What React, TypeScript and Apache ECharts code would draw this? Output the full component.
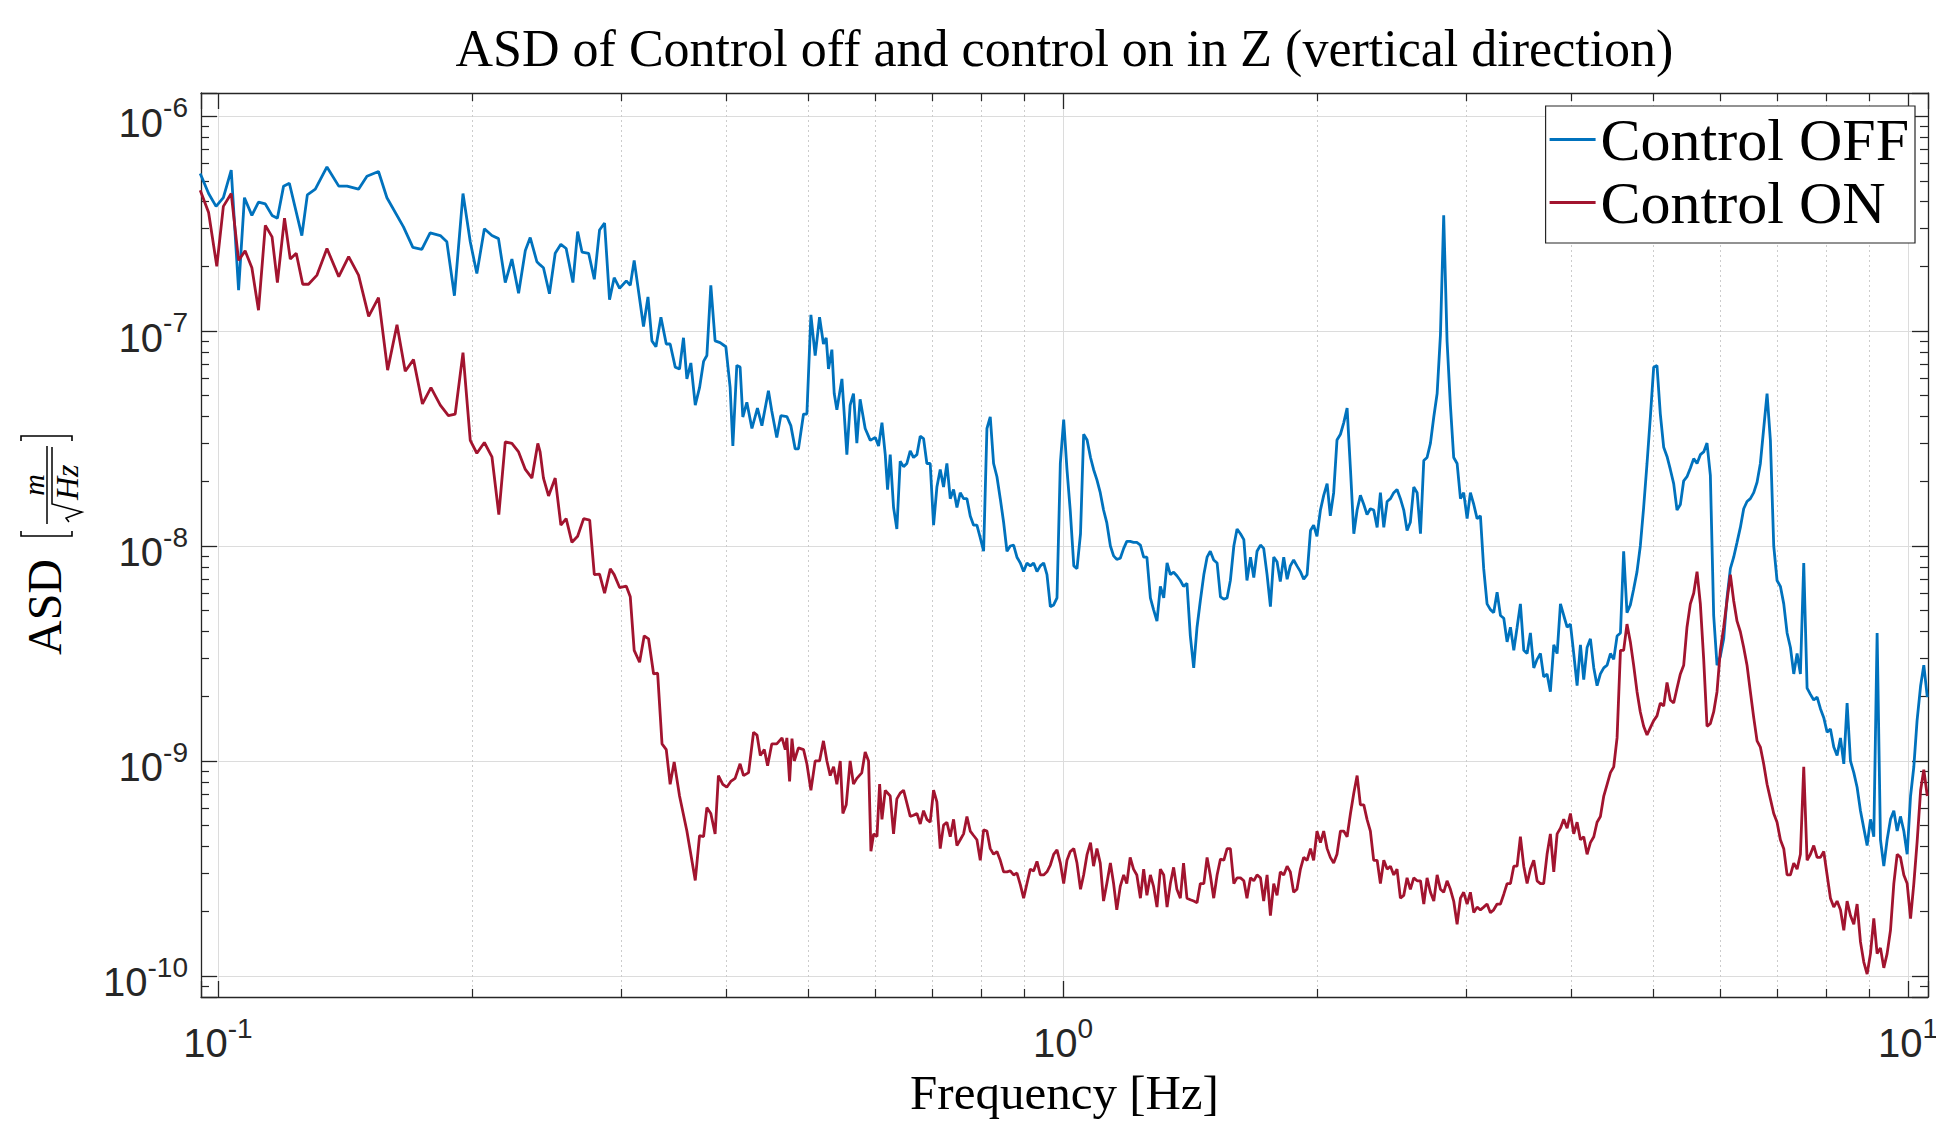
import React, { useEffect, useRef } from 'react';
import * as echarts from 'echarts';

// ---------- data (frequency in Hz, ASD in m/sqrt(Hz)) ----------
const blueLowFreq = [
  0.0953, 0.0975, 0.0995, 0.1015, 0.1037, 0.1058, 0.1075, 0.1097, 0.1117, 0.1138,
  0.1159, 0.1176, 0.1196, 0.1215, 0.1257, 0.1276, 0.1304, 0.1346, 0.139, 0.1422,
  0.1467, 0.1501, 0.1549, 0.1585, 0.1658, 0.1701, 0.1743, 0.1783, 0.1833, 0.1866,
  0.1905, 0.195, 0.1989, 0.2025, 0.2067, 0.211, 0.2148, 0.2188, 0.2228, 0.2269,
  0.2311, 0.2342, 0.2385,
  0.2406, 0.2428, 0.2468, 0.2507, 0.2546, 0.2583, 0.2631, 0.2665, 0.2697, 0.2746,
  0.2789, 0.2829, 0.2868, 0.2907, 0.2944, 0.2988, 0.3043, 0.3076, 0.3109, 0.3189,
  0.3228, 0.3263, 0.3299, 0.3344, 0.3393, 0.3429, 0.3477, 0.3518, 0.3556, 0.3589,
  0.3628, 0.3672, 0.3715, 0.3756, 0.379, 0.3831, 0.3876, 0.3929, 0.3991, 0.4038,
  0.4068, 0.4112, 0.4149, 0.418, 0.4226, 0.4285, 0.435, 0.4403, 0.4482, 0.4523,
  0.4585, 0.4636, 0.4713, 0.4764, 0.4821, 0.4864, 0.4932, 0.4977, 0.5032, 0.5091,
  0.5152, 0.5207, 0.5246, 0.5279, 0.5328, 0.5362, 0.5401, 0.5476, 0.555, 0.56,
  0.5651, 0.5703, 0.5754, 0.5834, 0.5916, 0.5997, 0.6051, 0.6107, 0.6162, 0.6201,
];
const blueLowAsd = [
  5.4e-7, 4.36e-7, 3.8e-7, 4.17e-7, 5.6e-7, 1.55e-7, 4.17e-7, 3.45e-7, 3.98e-7, 3.9e-7,
  3.45e-7, 3.35e-7, 4.72e-7, 4.87e-7, 2.78e-7, 4.3e-7, 4.57e-7, 5.8e-7, 4.72e-7, 4.72e-7,
  4.57e-7, 5.25e-7, 5.52e-7, 4.17e-7, 3.05e-7, 2.45e-7, 2.4e-7, 2.86e-7, 2.78e-7, 2.6e-7,
  1.46e-7, 4.36e-7, 2.6e-7, 1.85e-7, 2.99e-7, 2.78e-7, 2.69e-7, 1.68e-7, 2.16e-7, 1.5e-7,
  2.37e-7, 2.72e-7, 2.1e-7,
  2.03e-7, 1.97e-7, 1.49e-7, 2.3e-7, 2.53e-7, 2.42e-7, 1.68e-7, 2.9e-7, 2.33e-7, 2.3e-7,
  1.74e-7, 2.95e-7, 3.18e-7, 1.4e-7, 1.77e-7, 1.58e-7, 1.71e-7, 1.63e-7, 2.13e-7, 1.05e-7,
  1.44e-7, 9.0e-8, 8.45e-8, 1.16e-7, 8.7e-8, 8.7e-8, 6.79e-8, 6.66e-8, 9.3e-8, 5.99e-8,
  7.1e-8, 4.52e-8, 5.45e-8, 7.22e-8, 7.69e-8, 1.63e-7, 9.0e-8, 8.83e-8, 8.45e-8, 5.45e-8,
  2.92e-8, 6.92e-8, 6.8e-8, 3.98e-8, 4.66e-8, 3.52e-8, 4.38e-8, 3.63e-8, 5.28e-8, 4.25e-8,
  3.2e-8, 4.04e-8, 4.0e-8, 3.63e-8, 2.83e-8, 2.83e-8, 4.11e-8, 4.11e-8, 1.19e-7, 7.69e-8,
  1.16e-7, 8.7e-8, 9.3e-8, 6.66e-8, 8.19e-8, 5.12e-8, 4.3e-8, 5.99e-8, 2.66e-8, 4.52e-8,
  5.12e-8, 3.01e-8, 4.81e-8, 3.52e-8, 3.1e-8, 3.2e-8, 2.92e-8, 3.75e-8, 2.66e-8, 1.83e-8,
];

const redLowFreq = [
  0.0953, 0.0975, 0.0997, 0.1015, 0.1037, 0.1058, 0.1077, 0.1097, 0.1117, 0.1138,
  0.1159, 0.1176, 0.1199, 0.1218, 0.1238, 0.126, 0.128, 0.131, 0.1346, 0.139,
  0.1428, 0.1467, 0.1508, 0.1549, 0.1588, 0.1629, 0.1666, 0.1704, 0.1746, 0.1787,
  0.1833, 0.1874, 0.1909, 0.195, 0.1989, 0.2025, 0.2067, 0.211, 0.215, 0.2188,
  0.2228, 0.2269, 0.2311, 0.2353, 0.2391,
  0.2406, 0.2428, 0.2462, 0.2507, 0.2546, 0.2583, 0.2624, 0.2665, 0.2709, 0.2754,
  0.2789, 0.2829, 0.2868, 0.2913, 0.2944, 0.2988, 0.3043, 0.3076, 0.3109, 0.3155,
  0.3195, 0.3233, 0.3278, 0.3314, 0.3354, 0.3393, 0.3429, 0.3467, 0.3518, 0.3589,
  0.3672, 0.3715, 0.3756, 0.379, 0.3831, 0.3876, 0.3911, 0.3958, 0.4001, 0.4045,
  0.4093, 0.4149, 0.4188, 0.4246, 0.4304, 0.4345, 0.4384, 0.4432, 0.4472, 0.4523,
  0.4585, 0.4651, 0.4693, 0.4713, 0.4748, 0.4779, 0.4809, 0.4864, 0.4932, 0.4977,
  0.5032, 0.5091, 0.5152, 0.5207, 0.5256, 0.5304, 0.5353, 0.5401, 0.5451, 0.549,
  0.554, 0.56, 0.5651, 0.5703, 0.578, 0.5834, 0.5888, 0.5926, 0.597, 0.6025,
  0.6068, 0.6107, 0.6162,
];
const redLowAsd = [
  4.52e-7, 3.56e-7, 2.0e-7, 3.8e-7, 4.36e-7, 2.13e-7, 2.36e-7, 1.97e-7, 1.25e-7, 3.1e-7,
  2.74e-7, 1.68e-7, 3.35e-7, 2.16e-7, 2.3e-7, 1.65e-7, 1.65e-7, 1.82e-7, 2.42e-7, 1.79e-7,
  2.22e-7, 1.82e-7, 1.17e-7, 1.43e-7, 6.58e-8, 1.07e-7, 6.5e-8, 7.36e-8, 4.58e-8, 5.45e-8,
  4.52e-8, 4.04e-8, 4.11e-8, 7.94e-8, 3.1e-8, 2.7e-8, 3.03e-8, 2.6e-8, 1.4e-8, 3.05e-8,
  3.0e-8, 2.74e-8, 2.27e-8, 2.07e-8, 3.0e-8,
  2.74e-8, 2.07e-8, 1.71e-8, 2.07e-8, 1.25e-8, 1.34e-8, 1.04e-8, 1.11e-8, 1.34e-8, 1.32e-8,
  7.36e-9, 7.4e-9, 6.03e-9, 7.83e-9, 7.36e-9, 6.41e-9, 6.5e-9, 5.8e-9, 3.27e-9, 2.88e-9,
  3.82e-9, 3.7e-9, 2.54e-9, 2.56e-9, 1.2e-9, 1.13e-9, 7.79e-10, 9.9e-10, 6.87e-10, 4.72e-10,
  2.78e-10, 4.49e-10, 4.45e-10, 6.07e-10, 5.7e-10, 4.58e-10, 8.55e-10, 7.79e-10, 7.55e-10, 8.03e-10,
  8.3e-10, 9.7e-10, 8.55e-10, 8.83e-10, 1.36e-9, 1.32e-9, 1.06e-9, 1.13e-9, 9.5e-10, 1.2e-9,
  1.2e-9, 1.28e-9, 1.13e-9, 1.28e-9, 8.03e-10, 1.27e-9, 1.0e-9, 1.15e-9, 1.13e-9, 9.7e-10,
  7.31e-10, 1.0e-9, 1.0e-9, 1.24e-9, 1.0e-9, 8.55e-10, 9.4e-10, 7.79e-10, 1.0e-9, 5.7e-10,
  6.25e-10, 1.0e-9, 7.8e-10, 8.3e-10, 8.8e-10, 1.1e-9, 1.0e-9, 3.8e-10, 4.58e-10, 4.45e-10,
  7.8e-10, 5.35e-10, 7.3e-10,
];

const highFreq = [
  0.6246, 0.6303, 0.636, 0.6418, 0.6477, 0.6536, 0.6596, 0.6656, 0.6717, 0.6778,
  0.684, 0.6902, 0.6965, 0.7029, 0.7093, 0.7158, 0.7223, 0.7289, 0.7356, 0.7423,
  0.7491, 0.7559, 0.7628, 0.7698, 0.7768, 0.7839, 0.791, 0.7983, 0.8056, 0.8129,
  0.8203, 0.8278, 0.8354, 0.843, 0.8507, 0.8585, 0.8663, 0.8742, 0.8822, 0.8903,
  0.8984, 0.9066, 0.9149, 0.9232, 0.9317, 0.9402, 0.9488, 0.9574, 0.9662, 0.975,
  0.9839, 0.9929, 1.002, 1.011, 1.02, 1.03, 1.039, 1.049, 1.058, 1.068,
  1.078, 1.087, 1.097, 1.107, 1.117, 1.127, 1.138, 1.148, 1.158, 1.169,
  1.18, 1.19, 1.201, 1.212, 1.223, 1.235, 1.246, 1.257, 1.269, 1.28,
  1.292, 1.304, 1.316, 1.328, 1.34, 1.352, 1.364, 1.377, 1.389, 1.402,
  1.415, 1.428, 1.441, 1.454, 1.468, 1.481, 1.494, 1.508, 1.522, 1.536,
  1.55, 1.564, 1.578, 1.593, 1.607,
  1.622, 1.637, 1.651, 1.667, 1.682,
  1.697, 1.713, 1.728, 1.744, 1.76, 1.776, 1.792, 1.808, 1.825, 1.842,
  1.858, 1.875, 1.892, 1.91, 1.927, 1.945, 1.963, 1.98, 1.998, 2.017,
  2.035, 2.054, 2.072, 2.091, 2.11, 2.13, 2.149, 2.169, 2.189, 2.209,
  2.229, 2.249, 2.27, 2.29, 2.311, 2.332, 2.354, 2.375, 2.397, 2.419,
  2.441, 2.463, 2.485, 2.508, 2.531, 2.554, 2.577, 2.601, 2.625, 2.649,
  2.673, 2.697, 2.722, 2.747, 2.772, 2.797, 2.822, 2.848, 2.874, 2.9,
  2.927, 2.954, 2.98, 3.008, 3.035, 3.063, 3.091, 3.119, 3.147, 3.176,
  3.205, 3.234, 3.264, 3.294, 3.324, 3.354, 3.385, 3.416, 3.447, 3.478,
  3.51, 3.542, 3.574, 3.607, 3.64, 3.673, 3.706, 3.74, 3.774, 3.809,
  3.844, 3.879, 3.914, 3.95, 3.986, 4.022, 4.059, 4.096, 4.133, 4.171,
  4.209, 4.248, 4.286, 4.325, 4.365, 4.405, 4.445, 4.485, 4.526, 4.568,
  4.608, 4.65, 4.693, 4.735, 4.779, 4.822, 4.866, 4.911, 4.956, 5.001,
  5.046, 5.092, 5.139, 5.186, 5.233, 5.281, 5.329, 5.378, 5.427, 5.476,
  5.526, 5.577, 5.628, 5.679, 5.731, 5.783, 5.836, 5.889, 5.943, 5.997,
  6.052, 6.107, 6.163, 6.219, 6.276, 6.333, 6.391, 6.449, 6.508, 6.568,
  6.628, 6.688, 6.749, 6.811, 6.873, 6.936, 6.999, 7.063, 7.128, 7.193,
  7.259, 7.325, 7.392, 7.459, 7.527, 7.596, 7.665, 7.735, 7.806, 7.877,
  7.949, 8.022, 8.095, 8.169, 8.243, 8.319, 8.395, 8.471, 8.549, 8.627,
  8.705, 8.785, 8.865, 8.946, 9.028, 9.11, 9.193, 9.277, 9.362, 9.447,
  9.534, 9.621, 9.709, 9.797, 9.887, 9.977, 10.07, 10.16, 10.25, 10.35,
  10.44, 10.54,
];

const blueHighAsd = [
  2.66e-8, 1.51e-8, 1.2e-8, 2.48e-8, 2.34e-8, 2.42e-8, 2.77e-8, 2.58e-8, 2.66e-8, 3.24e-8,
  3.16e-8, 2.42e-8, 2.42e-8, 1.25e-8, 1.88e-8, 2.27e-8, 1.88e-8, 2.42e-8, 1.66e-8, 1.83e-8,
  1.51e-8, 1.77e-8, 1.66e-8, 1.66e-8, 1.38e-8, 1.25e-8, 1.25e-8, 1.09e-8, 9.45e-9, 3.52e-8,
  3.99e-8, 2.42e-8, 2.1e-8, 1.66e-8, 1.29e-8, 9.45e-9, 1.0e-8, 1.01e-8, 8.87e-9, 8.34e-9,
  7.6e-9, 8.34e-9, 8.08e-9, 8.34e-9, 7.6e-9, 8.08e-9, 8.34e-9, 7.36e-9, 5.22e-9, 5.32e-9,
  5.73e-9, 2.42e-8, 3.87e-8, 2.27e-8, 1.47e-8, 8.08e-9, 7.84e-9, 1.14e-8, 3.31e-8, 3.11e-8,
  2.58e-8, 2.27e-8, 2.03e-8, 1.77e-8, 1.47e-8, 1.28e-8, 1.0e-8, 8.99e-9, 8.66e-9, 8.77e-9,
  9.75e-9, 1.05e-8, 1.05e-8, 1.04e-8, 1.04e-8, 1.01e-8, 8.87e-9, 8.87e-9, 5.73e-9, 5.06e-9,
  4.47e-9, 6.49e-9, 5.73e-9, 8.34e-9, 7.36e-9, 7.55e-9, 7.27e-9, 6.91e-9, 6.49e-9, 6.7e-9,
  3.81e-9, 2.71e-9, 4.19e-9, 5.56e-9, 7.36e-9, 8.87e-9, 9.45e-9, 8.61e-9, 8.34e-9, 5.8e-9,
  5.66e-9, 5.73e-9, 6.91e-9, 1.0e-8, 1.2e-8,
  1.14e-8, 1.07e-8, 6.91e-9, 8.87e-9, 7.13e-9, 9.45e-9, 1.01e-8, 9.75e-9, 7.36e-9, 5.22e-9,
  8.87e-9, 8.45e-9, 6.83e-9, 8.87e-9, 7.0e-9, 8.08e-9, 8.61e-9, 8.08e-9, 7.6e-9, 7.0e-9,
  7.36e-9, 1.18e-8, 1.25e-8, 1.11e-8, 1.47e-8, 1.72e-8, 1.95e-8, 1.38e-8, 1.77e-8, 3.11e-8,
  3.31e-8, 3.74e-8, 4.38e-8, 2.27e-8, 1.14e-8, 1.47e-8, 1.72e-8, 1.56e-8, 1.4e-8, 1.49e-8,
  1.47e-8, 1.22e-8, 1.77e-8, 1.22e-8, 1.61e-8, 1.66e-8, 1.77e-8, 1.83e-8, 1.66e-8, 1.47e-8,
  1.18e-8, 1.29e-8, 1.88e-8, 1.77e-8, 1.14e-8, 2.5e-8, 2.58e-8, 3.01e-8, 3.99e-8, 5.12e-8,
  9.57e-8, 3.45e-7, 8.99e-8, 4.52e-8, 2.58e-8, 2.42e-8, 1.66e-8, 1.77e-8, 1.34e-8, 1.77e-8,
  1.56e-8, 1.34e-8, 1.38e-8, 7.84e-9, 5.38e-9, 5.06e-9, 4.9e-9, 6.1e-9, 4.75e-9, 4.61e-9,
  3.58e-9, 4.19e-9, 3.27e-9, 4.19e-9, 5.38e-9, 3.27e-9, 3.16e-9, 3.94e-9, 2.71e-9, 2.97e-9,
  3.16e-9, 2.46e-9, 2.54e-9, 2.1e-9, 3.47e-9, 3.16e-9, 5.38e-9, 4.75e-9, 4.19e-9, 4.33e-9,
  3.16e-9, 2.24e-9, 3.47e-9, 2.39e-9, 3.37e-9,
  3.7e-9, 2.71e-9, 2.24e-9, 2.54e-9, 2.71e-9, 2.79e-9, 3.16e-9, 2.97e-9, 3.81e-9, 3.94e-9,
  9.45e-9, 4.9e-9, 5.32e-9, 6.29e-9, 7.6e-9, 1.0e-8, 1.51e-8, 2.42e-8, 3.99e-8, 6.79e-8,
  6.91e-8, 4.12e-8, 2.88e-8, 2.61e-8, 2.27e-8, 1.95e-8, 1.47e-8, 1.56e-8, 2.01e-8, 2.1e-8,
  2.3e-8, 2.55e-8, 2.42e-8, 2.66e-8, 2.74e-8, 3.01e-8, 2.13e-8, 4.75e-9, 2.79e-9, 3.07e-9,
  3.7e-9, 5.73e-9, 7.84e-9, 8.87e-9, 1.04e-8, 1.22e-8, 1.49e-8, 1.61e-8, 1.66e-8, 1.77e-8,
  1.98e-8, 2.42e-8, 3.52e-8, 5.12e-8, 3.11e-8, 1.0e-8, 6.91e-9, 6.49e-9, 5.38e-9, 3.94e-9,
  3.37e-9, 2.54e-9, 3.16e-9, 2.54e-9, 8.34e-9, 2.18e-9, 2.04e-9, 1.92e-9, 1.98e-9, 1.75e-9,
  1.59e-9, 1.36e-9, 1.41e-9, 1.16e-9, 1.06e-9, 1.28e-9, 9.69e-10, 1.86e-9, 1.0e-9, 8.82e-10,
  7.55e-10, 5.87e-10, 4.87e-10, 4.04e-10, 5.35e-10, 4.44e-10, 3.94e-9, 4.3e-10, 3.24e-10, 4.3e-10,
  5.35e-10, 5.87e-10, 4.72e-10, 5.52e-10, 4.72e-10, 3.68e-10, 6.87e-10, 9.4e-10, 1.54e-9, 2.24e-9,
  2.79e-9, 1.98e-9,
];

const redHighAsd = [
  6.87e-10, 4.58e-10, 6.66e-10, 7.09e-10, 7.31e-10, 6.37e-10, 5.52e-10, 5.59e-10, 5.7e-10, 5.09e-10,
  5.87e-10, 5.35e-10, 5.19e-10, 7.31e-10, 6.45e-10, 3.91e-10, 5.03e-10, 5.19e-10, 4.44e-10, 5.35e-10,
  4.04e-10, 4.3e-10, 4.58e-10, 5.52e-10, 4.72e-10, 4.5e-10, 4.3e-10, 3.45e-10, 4.78e-10, 4.72e-10,
  3.91e-10, 3.68e-10, 3.79e-10, 3.45e-10, 3.05e-10, 3.05e-10, 3.08e-10, 2.95e-10, 3.01e-10, 2.66e-10,
  2.3e-10, 2.69e-10, 3.14e-10, 3.08e-10, 3.41e-10, 2.95e-10, 2.95e-10, 3.05e-10, 3.28e-10, 3.68e-10,
  3.86e-10, 3.35e-10, 2.69e-10, 3.45e-10, 3.79e-10, 3.91e-10, 3.35e-10, 2.53e-10, 2.95e-10, 3.68e-10,
  4.17e-10, 3.24e-10, 3.91e-10, 3.35e-10, 2.23e-10, 2.69e-10, 3.35e-10, 2.69e-10, 2.03e-10, 2.61e-10,
  2.95e-10, 2.69e-10, 3.56e-10, 3.14e-10, 2.95e-10, 2.3e-10, 3.14e-10, 2.37e-10, 2.95e-10, 2.61e-10,
  2.09e-10, 3.14e-10, 2.95e-10, 2.09e-10, 2.69e-10, 3.2e-10, 2.53e-10, 2.3e-10, 3.35e-10, 2.3e-10,
  2.26e-10, 2.23e-10, 2.19e-10, 2.69e-10, 2.69e-10, 3.56e-10, 2.95e-10, 2.3e-10, 2.95e-10, 3.5e-10,
  3.45e-10, 3.91e-10, 3.91e-10, 2.69e-10, 2.86e-10,
  2.86e-10, 2.77e-10, 2.3e-10, 2.86e-10, 2.77e-10, 2.95e-10, 2.86e-10, 2.23e-10, 2.95e-10, 1.91e-10,
  2.69e-10, 2.37e-10, 3.05e-10, 2.95e-10, 3.24e-10, 3.05e-10, 2.45e-10, 2.53e-10, 3.14e-10, 3.56e-10,
  3.45e-10, 3.91e-10, 3.45e-10, 4.72e-10, 4.17e-10, 4.72e-10, 3.91e-10, 3.56e-10, 3.35e-10, 3.68e-10,
  4.72e-10, 4.72e-10, 4.44e-10, 5.7e-10, 7.09e-10, 8.55e-10, 6.25e-10, 6.25e-10, 5.35e-10, 4.72e-10,
  3.45e-10, 3.45e-10, 2.69e-10, 3.45e-10, 3.14e-10, 3.24e-10, 2.95e-10, 3.14e-10, 2.3e-10, 2.37e-10,
  2.86e-10, 2.53e-10, 2.86e-10, 2.77e-10, 2.77e-10, 2.16e-10, 2.86e-10, 2.45e-10, 2.23e-10, 2.95e-10,
  2.53e-10, 2.45e-10, 2.77e-10, 2.53e-10, 2.23e-10, 1.74e-10, 2.3e-10, 2.45e-10, 2.16e-10, 2.45e-10,
  1.97e-10, 2.09e-10, 2.03e-10, 2.09e-10, 2.16e-10, 1.97e-10, 2.03e-10, 2.16e-10, 2.16e-10, 2.4e-10,
  2.69e-10, 2.69e-10, 3.24e-10, 3.24e-10, 4.44e-10, 3.24e-10, 2.69e-10, 3.14e-10, 3.45e-10, 2.77e-10,
  2.69e-10, 2.69e-10, 3.68e-10, 4.58e-10, 3.05e-10, 4.58e-10, 4.87e-10, 5.35e-10, 4.87e-10, 5.7e-10,
  4.58e-10, 5.19e-10, 4.3e-10, 4.44e-10, 3.68e-10,
  4.17e-10, 4.44e-10, 5.19e-10, 5.52e-10, 6.87e-10, 7.79e-10, 8.82e-10, 9.39e-10, 1.28e-9, 3.27e-9,
  3.27e-9, 4.33e-9, 3.58e-9, 2.79e-9, 2.1e-9, 1.69e-9, 1.45e-9, 1.32e-9, 1.43e-9, 1.54e-9,
  1.62e-9, 1.86e-9, 1.8e-9, 2.32e-9, 1.92e-9, 1.86e-9, 2.18e-9, 2.54e-9, 2.79e-9, 4.19e-9,
  5.38e-9, 6.03e-9, 7.6e-9, 5.38e-9, 2.97e-9, 1.45e-9, 1.49e-9, 1.69e-9, 2.1e-9, 3.27e-9,
  4.19e-9, 5.56e-9, 7.36e-9, 5.56e-9, 4.47e-9, 3.99e-9, 3.37e-9, 2.79e-9, 2.1e-9, 1.59e-9,
  1.24e-9, 1.16e-9, 9.69e-10, 7.79e-10, 6.66e-10, 5.7e-10, 5.19e-10, 4.3e-10, 3.91e-10, 2.95e-10,
  2.95e-10, 3.35e-10, 3.14e-10, 3.68e-10, 9.39e-10, 3.45e-10, 3.68e-10, 4.04e-10, 3.56e-10, 3.56e-10,
  3.79e-10, 2.95e-10, 2.3e-10, 2.09e-10, 2.23e-10, 2.03e-10, 1.63e-10, 2.23e-10, 1.91e-10, 1.74e-10,
  2.16e-10, 1.44e-10, 1.16e-10, 1.02e-10, 1.27e-10, 1.85e-10, 1.27e-10, 1.35e-10, 1.09e-10, 1.27e-10,
  1.63e-10, 2.69e-10, 3.68e-10, 3.56e-10, 2.95e-10, 2.69e-10, 1.85e-10, 2.69e-10, 4.17e-10, 7.31e-10,
  9.1e-10, 6.87e-10,
];

// axis extents and grid lines
const X_MIN = 0.0955;
const X_MAX = 10.56;
const Y_MIN = 7.98e-11;
const Y_MAX = 1.28e-6;
const xMinorGrid = [0.2, 0.3, 0.4, 0.5, 0.6, 0.7, 0.8, 0.9, 2, 3, 4, 5, 6, 7, 8, 9];
const yMinorGrid = [
  9e-11,
  2e-10, 3e-10, 4e-10, 5e-10, 6e-10, 7e-10, 8e-10, 9e-10,
  2e-9, 3e-9, 4e-9, 5e-9, 6e-9, 7e-9, 8e-9, 9e-9,
  2e-8, 3e-8, 4e-8, 5e-8, 6e-8, 7e-8, 8e-8, 9e-8,
  2e-7, 3e-7, 4e-7, 5e-7, 6e-7, 7e-7, 8e-7, 9e-7,
];

const BLUE = '#0072BD';
const RED = '#A2142F';
const AXIS = '#262626';

function toPairs(f: number[], v: number[]) {
  return f.map((x, i) => [x, v[i]]);
}

function expLabel(v: number) {
  const e = Math.log10(v);
  const r = Math.round(e);
  if (Math.abs(e - r) > 1e-6) return '';
  return `{b|10}{s|${r}}`;
}

const richLabel = {
  b: { fontSize: 40, fontFamily: 'Liberation Sans', color: AXIS, lineHeight: 49, verticalAlign: 'bottom' },
  s: { fontSize: 28, fontFamily: 'Liberation Sans', color: AXIS, lineHeight: 28, verticalAlign: 'top' },
};

export default function App() {
  const ref = useRef<HTMLDivElement>(null);

  useEffect(() => {
    if (!ref.current) return;
    const chart = echarts.init(ref.current, null, { renderer: 'svg' });

    const blueData = [...toPairs(blueLowFreq, blueLowAsd), ...toPairs(highFreq, blueHighAsd)];
    const redData = [...toPairs(redLowFreq, redLowAsd), ...toPairs(highFreq, redHighAsd)];

    const yTickF = 1.09;
    const xTickF = 1.022;
    const minorTickSegments: any[] = [];
    xMinorGrid.forEach((x) => {
      minorTickSegments.push([{ coord: [x, Y_MIN * 1.0003] }, { coord: [x, Y_MIN * yTickF] }]);
      minorTickSegments.push([{ coord: [x, Y_MAX / 1.0003] }, { coord: [x, Y_MAX / yTickF] }]);
    });
    yMinorGrid.forEach((y) => {
      minorTickSegments.push([{ coord: [X_MIN * 1.0001, y] }, { coord: [X_MIN * xTickF, y] }]);
      minorTickSegments.push([{ coord: [X_MAX / 1.0001, y] }, { coord: [X_MAX / xTickF, y] }]);
    });

    const axisLine = { show: true, onZero: false, lineStyle: { color: AXIS, width: 1.3 } };
    const axisTick = { show: true, inside: true, length: 16, lineStyle: { color: AXIS, width: 1.3 } };
    const majorSplit = { show: true, lineStyle: { color: '#dcdcdc', width: 1, type: 'solid' } };

    const option: any = {
      animation: false,
      backgroundColor: '#ffffff',
      grid: { left: 201, right: 8, top: 93, bottom: 124, containLabel: false, outerBoundsMode: 'none' },
      legend: {
        data: ['Control OFF', 'Control ON'],
        orient: 'vertical',
        right: 21,
        top: 106,
        icon: 'rect',
        itemWidth: 46,
        itemHeight: 3,
        itemGap: 0,
        padding: [2, 6, 9, 4],
        borderColor: AXIS,
        borderWidth: 1.2,
        borderRadius: 0,
        backgroundColor: '#ffffff',
        selectedMode: false,
        textStyle: { fontFamily: 'Liberation Serif', fontSize: 60, color: '#000', lineHeight: 63 },
      },
      xAxis: [
        {
          type: 'log', logBase: 10, min: X_MIN, max: X_MAX, position: 'bottom',
          axisLine, axisTick, splitLine: majorSplit,
          minorTick: { show: false }, minorSplitLine: { show: false },
          axisLabel: { show: true, margin: 17, formatter: expLabel, rich: richLabel, hideOverlap: false },
          name: 'Frequency [Hz]', nameLocation: 'middle', nameGap: 86,
          nameTextStyle: { fontFamily: 'Liberation Serif', fontSize: 49, color: '#000', verticalAlign: 'middle' },
        },
        {
          type: 'log', logBase: 10, min: X_MIN, max: X_MAX, position: 'top',
          axisLine, axisTick, splitLine: { show: false }, axisLabel: { show: false },
        },
      ],
      yAxis: [
        {
          type: 'log', logBase: 10, min: Y_MIN, max: Y_MAX, position: 'left',
          axisLine, axisTick, splitLine: majorSplit,
          minorTick: { show: false }, minorSplitLine: { show: false },
          axisLabel: { show: true, margin: 13, formatter: expLabel, rich: richLabel, padding: [4, 0, 0, 0], hideOverlap: false },
        },
        {
          type: 'log', logBase: 10, min: Y_MIN, max: Y_MAX, position: 'right',
          axisLine, axisTick, splitLine: { show: false }, axisLabel: { show: false },
        },
      ],
      series: [
        {
          type: 'line', name: 'minor grid', data: [], silent: true, z: 1,
          markLine: {
            silent: true, z: 1, symbol: ['none', 'none'], label: { show: false },
            emphasis: { disabled: true },
            lineStyle: { color: '#cccccc', width: 1, type: [2, 3] },
            data: [...xMinorGrid.map((v) => ({ xAxis: v })), ...yMinorGrid.map((v) => ({ yAxis: v }))],
          },
        },
        {
          type: 'line', name: 'minor ticks', data: [], silent: true, z: 1,
          markLine: {
            silent: true, z: 1, symbol: ['none', 'none'], label: { show: false },
            emphasis: { disabled: true },
            lineStyle: { color: AXIS, width: 1.2, type: 'solid' },
            data: minorTickSegments,
          },
        },
        {
          type: 'line', name: 'Control OFF', data: blueData, showSymbol: false, symbol: 'none',
          lineStyle: { color: BLUE, width: 2.8 }, itemStyle: { color: BLUE },
          emphasis: { disabled: true }, z: 3,
        },
        {
          type: 'line', name: 'Control ON', data: redData, showSymbol: false, symbol: 'none',
          lineStyle: { color: RED, width: 2.8 }, itemStyle: { color: RED },
          emphasis: { disabled: true }, z: 4,
        },
      ],
      graphic: [
        {
          type: 'text', x: 1064.5, y: 48, silent: true,
          style: {
            text: 'ASD of Control off and control on in Z (vertical direction)',
            font: '52px "Liberation Serif"', fill: '#000',
            align: 'center', verticalAlign: 'middle', textAlign: 'center', textVerticalAlign: 'middle',
          },
        },
        {
          type: 'group', x: 47, y: 545, rotation: Math.PI / 2, silent: true,
          children: [
            {
              type: 'text', x: -62, y: -3,
              style: { text: 'ASD', font: '48px "Liberation Serif"', fill: '#000', align: 'center', verticalAlign: 'middle', textAlign: 'center', textVerticalAlign: 'middle' },
            },
            { type: 'polyline', shape: { points: [[14, -26], [9, -26], [9, 25], [14, 25]] }, style: { stroke: '#000', lineWidth: 1.6, fill: 'none' } },
            { type: 'polyline', shape: { points: [[104, -26], [109, -26], [109, 25], [104, 25]] }, style: { stroke: '#000', lineWidth: 1.6, fill: 'none' } },
            {
              type: 'text', x: 60, y: -14,
              style: { text: 'm', font: 'italic 30px "Liberation Serif"', fill: '#000', align: 'center', verticalAlign: 'middle', textAlign: 'center', textVerticalAlign: 'middle' },
            },
            { type: 'line', shape: { x1: 21, y1: 0, x2: 99, y2: 0 }, style: { stroke: '#000', lineWidth: 1.5 } },
            { type: 'polyline', shape: { points: [[23, 22], [27, 19], [33, 35], [41, 5], [98, 5]] }, style: { stroke: '#000', lineWidth: 1.5, fill: 'none' } },
            {
              type: 'text', x: 45, y: 20,
              style: { text: 'Hz', font: 'italic 32px "Liberation Serif"', fill: '#000', align: 'left', verticalAlign: 'middle', textAlign: 'left', textVerticalAlign: 'middle' },
            },
          ],
        },
      ],
    };

    chart.setOption(option);
    return () => {
      chart.dispose();
    };
  }, []);

  return (
    <div
      ref={ref}
      style={{ position: 'absolute', left: 0, top: 0, width: 1936, height: 1121, background: '#ffffff' }}
    />
  );
}
